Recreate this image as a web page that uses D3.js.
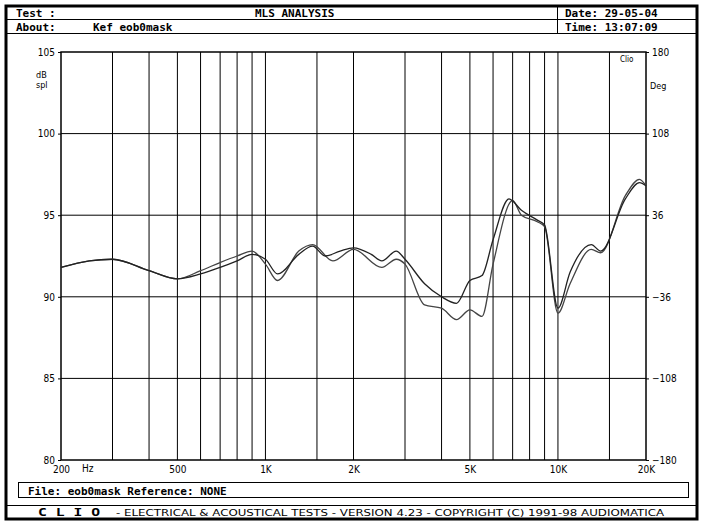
<!DOCTYPE html><html><head><meta charset="utf-8">
<script src="https://cdn.jsdelivr.net/npm/d3@7"></script>
<style>body{margin:0;background:#fff}</style></head><body>
<script>
const freqA=[200,250,300,400,500,600,700,800,900,1000,1100,1300,1450,1600,1800,2000,2300,2500,2800,3000,3500,4000,4500,5000,5500,6000,6800,7500,8500,9000,10000,11000,13000,14000,17000,19000,20000];
const dbA=[91.8,92.2,92.3,91.6,91.1,91.4,91.8,92.2,92.6,92.3,91.4,92.6,93.1,92.5,92.8,93.0,92.6,92.2,92.8,92.3,90.8,90.0,89.6,91.0,91.3,93.5,96.0,95.3,94.7,94.4,89.3,91.5,93.2,92.8,96.0,97.0,96.8];
const freqB=[200,250,300,400,500,600,700,800,900,1000,1100,1300,1450,1700,2000,2500,2800,3000,3500,4000,4500,5000,5500,6000,7000,7500,8500,9000,10000,11000,13000,14000,17000,19000,20000];
const dbB=[91.8,92.2,92.3,91.6,91.1,91.6,92.1,92.5,92.8,92.0,91.0,92.8,93.2,92.2,92.9,91.8,92.3,92.0,89.5,89.3,88.6,89.2,88.8,92.0,95.9,95.0,94.6,94.3,89.0,90.8,92.9,92.7,96.2,97.2,96.8];
const gridFreqs=[300,400,500,600,700,800,900,1000,1500,2000,3000,4000,5000,6000,7000,8000,9000,10000,15000];
const xTicks=[[200,"200"],[500,"500"],[1000,"1K"],[2000,"2K"],[5000,"5K"],[10000,"10K"],[20000,"20K"]];
const yTicks=[80,85,90,95,100,105];
const degTicks=[-180,-108,-36,36,108,180];
const svg=d3.select("body").append("svg").attr("width",705).attr("height",525);
const mono="'DejaVu Sans Mono',monospace";
const x=d3.scaleLog().domain([200,20000]).range([61,646]);
const y=d3.scaleLinear().domain([80,105]).range([460,52]);
const yd=d3.scaleLinear().domain([-180,180]).range([460,52]);
svg.append("rect").attr("x",6).attr("y",6).attr("width",691).attr("height",513).attr("fill","none").attr("stroke","#000").attr("stroke-width",3);
svg.append("line").attr("x1",6).attr("x2",697).attr("y1",19.5).attr("y2",19.5).attr("stroke","#000");
svg.append("line").attr("x1",6).attr("x2",697).attr("y1",33.5).attr("y2",33.5).attr("stroke","#000");
svg.append("line").attr("x1",557.5).attr("x2",557.5).attr("y1",6).attr("y2",33.5).attr("stroke","#000");
svg.append("line").attr("x1",6).attr("x2",697).attr("y1",505.5).attr("y2",505.5).attr("stroke","#000");
svg.append("rect").attr("x",18.5).attr("y",482.5).attr("width",670).attr("height",15).attr("fill","none").attr("stroke","#000");
const t=(xx,yy,s,o={})=>{const e=svg.append("text").attr("x",xx).attr("y",yy).text(s).attr("font-family",o.f||mono).attr("font-size",o.s||11).attr("font-weight",o.w||"bold").attr("text-anchor",o.a||"start");if(o.L)e.attr("textLength",o.L).attr("lengthAdjust","spacingAndGlyphs");return e;};
t(16,17,"Test :");t(255,17,"MLS ANALYSIS");t(565,17,"Date: 29-05-04");
t(16,31,"About:");t(93,31,"Kef eob0mask");t(565,31,"Time: 13:07:09");
t(28,495,"File: eob0mask Reference: NONE");
t(38,516,"C L I O",{L:62});
t(116,516,"-  ELECTRICAL & ACOUSTICAL TESTS  -  VERSION 4.23  -  COPYRIGHT (C) 1991-98 AUDIOMATICA",{w:"normal",s:9,f:"'DejaVu Sans Condensed',sans-serif",L:548});
const g=svg.append("g");
g.selectAll(".vg").data(gridFreqs).join("line").attr("x1",d=>x(d)).attr("x2",d=>x(d)).attr("y1",52).attr("y2",460).attr("stroke","#000").attr("stroke-width",1);
g.selectAll(".hg").data(yTicks.slice(1,-1)).join("line").attr("x1",61).attr("x2",646).attr("y1",d=>y(d)).attr("y2",d=>y(d)).attr("stroke","#000");
g.append("rect").attr("x",61).attr("y",52).attr("width",585).attr("height",408).attr("fill","none").attr("stroke","#000").attr("stroke-width",1.5);
const sf="'DejaVu Sans Condensed',sans-serif";
g.append("g").attr("transform","translate(61,0)").call(d3.axisLeft(y).tickValues(yTicks).tickSize(3).tickFormat(d3.format("d"))).call(a=>{a.select(".domain").remove();a.selectAll("text").attr("font-family",sf).attr("font-size",10);});
g.append("g").attr("transform","translate(646,0)").call(d3.axisRight(yd).tickValues(degTicks).tickSize(3)).call(a=>{a.select(".domain").remove();a.selectAll("text").attr("font-family",sf).attr("font-size",10);});
g.append("g").attr("transform","translate(0,460)").call(d3.axisBottom(x).tickValues(xTicks.map(d=>d[0])).tickFormat((d,i)=>xTicks[i][1]).tickSize(0).tickPadding(6)).call(a=>{a.select(".domain").remove();a.selectAll("text").attr("font-family",sf).attr("font-size",10);});
t(82,472,"Hz",{w:"normal",s:10,f:sf});
t(36,78,"dB",{w:"normal",s:9,f:sf});t(36,88,"spl",{w:"normal",s:9,f:sf});
t(650,89,"Deg",{w:"normal",s:9,f:sf});t(620,62,"Clio",{w:"normal",s:8,f:sf});
const line=d3.line().x(d=>x(d[0])).y(d=>y(d[1])).curve(d3.curveMonotoneX);
g.append("path").datum(freqB.map((f,i)=>[f,dbB[i]])).attr("d",line).attr("fill","none").attr("stroke","#444").attr("stroke-width",1.3);
g.append("path").datum(freqA.map((f,i)=>[f,dbA[i]])).attr("d",line).attr("fill","none").attr("stroke","#222").attr("stroke-width",1.3);
</script></body></html>
